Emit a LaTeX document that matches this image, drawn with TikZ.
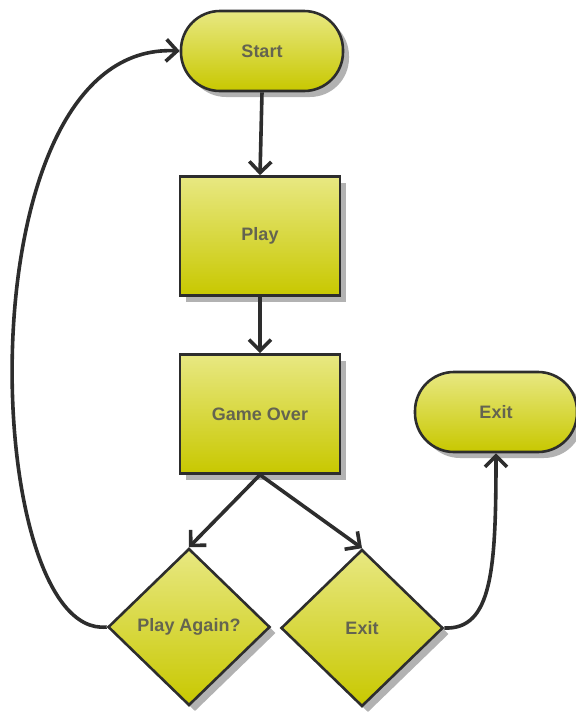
\documentclass[tikz,border=0pt]{standalone}
\usepackage{fontspec}
\setmainfont{Liberation Sans}
\usetikzlibrary{shapes.geometric,shapes.misc,shadows,arrows.meta}
\definecolor{ytop}{RGB}{232,232,130}
\definecolor{ybot}{RGB}{200,200,0}
\definecolor{txt}{RGB}{100,100,80}
\definecolor{edge}{RGB}{45,45,45}
\tikzset{
  base/.style={draw=edge, line width=2.6pt, top color=ytop, bottom color=ybot,
    font=\fontsize{18}{20}\selectfont\bfseries, text=txt,
    drop shadow={shadow xshift=6pt, shadow yshift=-6pt, fill=black!30, opacity=1}},
  term/.style={base, rectangle, rounded corners=39pt, minimum width=162pt, minimum height=80pt},
  proc/.style={base, rectangle, minimum width=160pt, minimum height=119pt},
  dec/.style={base, diamond, aspect=1, inner sep=0pt, minimum width=162pt, minimum height=157pt},
  conn/.style={draw=edge, line width=3.6pt, -{Straight Barb[length=11pt,width=22pt]}}
}
\begin{document}
\begin{tikzpicture}[x=1pt,y=-1pt]
\useasboundingbox (0,0) rectangle (576,713);
\node[term] (start) at (262,51) {Start};
\node[proc] (play) at (260,236) {Play};
\node[proc] (over) at (260,414) {Game Over};
\node[term] (exitt) at (496,412) {Exit};
\node[dec] (again) at (189,627) {Play Again?};
\node[dec] (exitd) at (362,628) {Exit};
\draw[conn] (start.south) -- (play.north);
\draw[conn] (play.south) -- (over.north);
\draw[conn] (over.south) -- (again.north);
\draw[conn] (over.south) -- (exitd.north);
\draw[conn] (exitd.east) .. controls (492,630) and (496,570) .. (exitt.south);
\draw[conn] (again.west) .. controls (-20,640) and (-40,40) .. (start.west);
\end{tikzpicture}
\end{document}
